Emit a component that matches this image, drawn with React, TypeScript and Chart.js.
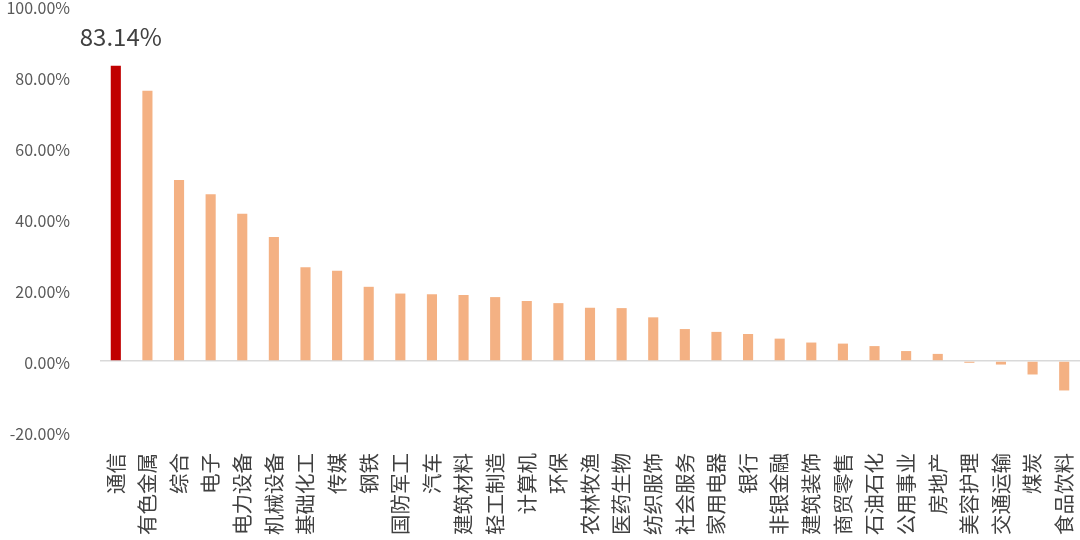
import { Chart, registerables } from "chart.js";
import React, { useEffect, useRef } from "react";

Chart.register(...registerables);

const industries = [
  "通信", "有色金属", "综合", "电子", "电力设备", "机械设备", "基础化工", "传媒",
  "钢铁", "国防军工", "汽车", "建筑材料", "轻工制造", "计算机", "环保", "农林牧渔",
  "医药生物", "纺织服饰", "社会服务", "家用电器", "银行", "非银金融", "建筑装饰",
  "商贸零售", "石油石化", "公用事业", "房地产", "美容护理", "交通运输", "煤炭", "食品饮料",
];
const returns = [
  83.14, 76.1, 51.0, 47.0, 41.5, 34.9, 26.4, 25.4, 20.9, 19.0, 18.8, 18.6, 18.0, 16.9,
  16.3, 15.0, 14.9, 12.3, 9.0, 8.2, 7.6, 6.3, 5.2, 4.9, 4.2, 2.8, 2.0, -0.5, -1.0, -3.8,
  -8.3,
];
const yTicks = [-20, 0, 20, 40, 60, 80, 100];

const HIGHLIGHT = "#C00000";
const BASE = "#F4B183";
const FONT = "'Noto Sans CJK SC', 'Noto Sans', sans-serif";

// value label above the highlighted bar only
const topLabel = {
  id: "topLabel",
  afterDatasetsDraw(chart: Chart) {
    const bar = chart.getDatasetMeta(0).data[0];
    if (!bar) return;
    const ctx = chart.ctx;
    ctx.save();
    ctx.font = `24px ${FONT}`;
    ctx.fillStyle = "#404040";
    ctx.textAlign = "center";
    ctx.textBaseline = "alphabetic";
    ctx.fillText(returns[0].toFixed(2) + "%", bar.x + 5, bar.y - 20);
    ctx.restore();
  },
};

const App: React.FC = () => {
  const canvasRef = useRef<HTMLCanvasElement | null>(null);
  const chartRef = useRef<Chart | null>(null);

  useEffect(() => {
    if (chartRef.current) chartRef.current.destroy();
    if (!canvasRef.current) return;

    chartRef.current = new Chart(canvasRef.current, {
      type: "bar",
      data: {
        labels: industries,
        datasets: [
          {
            data: returns,
            backgroundColor: returns.map((_, i) => (i === 0 ? HIGHLIGHT : BASE)),
            barPercentage: 0.32,
            categoryPercentage: 1,
          },
        ],
      },
      options: {
        animation: false,
        responsive: false,
        layout: { padding: { top: 6, left: 0, right: 0, bottom: 0 } },
        plugins: { legend: { display: false }, tooltip: { enabled: false } },
        scales: {
          x: {
            grid: { display: false },
            border: { display: false },
            ticks: {
              autoSkip: false,
              minRotation: 90,
              maxRotation: 90,
              padding: 13,
              color: "#404040",
              font: { family: FONT, size: 20.5 },
            },
            afterFit: (scale: any) => {
              scale.height = 108;
              scale.paddingLeft = 0;
              scale.paddingRight = 0;
            },
          },
          y: {
            min: -20,
            max: 100,
            afterBuildTicks: (scale: any) => {
              scale.ticks = yTicks.map((v) => ({ value: v }));
            },
            grid: {
              drawTicks: false,
              color: (c: any) => (c.tick && c.tick.value === 0 ? "#d9d9d9" : "transparent"),
              lineWidth: 1.5,
            },
            border: { display: false },
            ticks: {
              padding: 30,
              labelOffset: 2,
              color: "#595959",
              font: { family: FONT, size: 16 },
              callback: (v: any) => Number(v).toFixed(2) + "%",
            },
            afterFit: (scale: any) => {
              scale.width = 100;
              scale.paddingTop = 0;
              scale.paddingBottom = 0;
            },
          },
        },
      },
      plugins: [topLabel],
    });

    return () => {
      if (chartRef.current) {
        chartRef.current.destroy();
        chartRef.current = null;
      }
    };
  }, []);

  return (
    <div style={{ position: "fixed", left: 0, top: 0, width: 1080, height: 540, background: "#fff" }}>
      <canvas ref={canvasRef} width={1080} height={540} style={{ width: 1080, height: 540 }}></canvas>
    </div>
  );
};

export default App;
